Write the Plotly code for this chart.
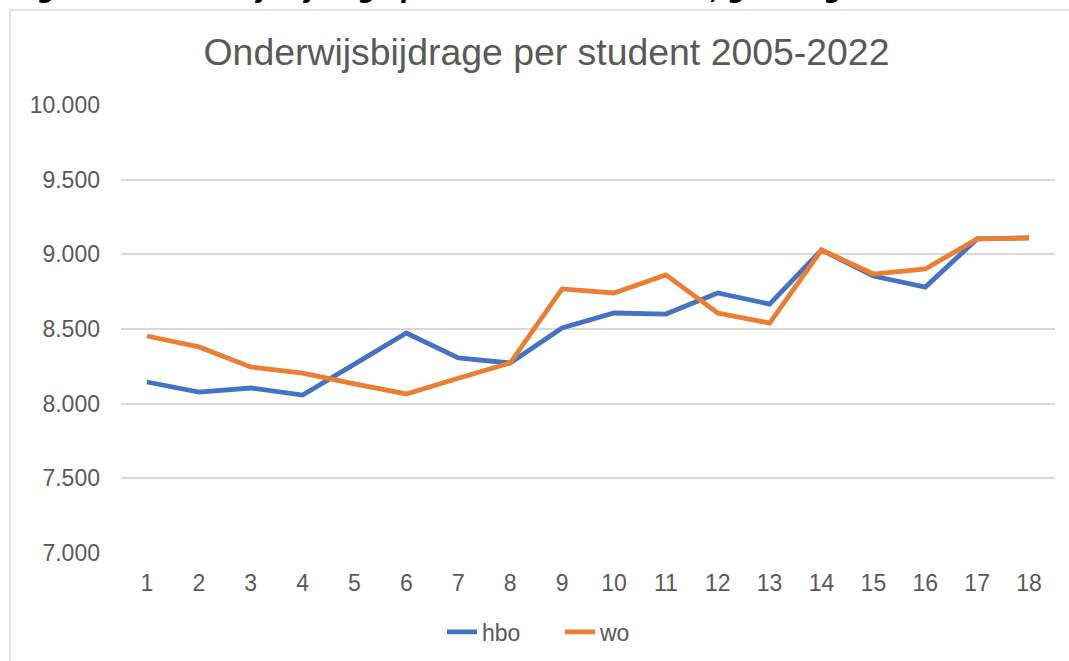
import plotly.graph_objects as go

categories = [str(i) for i in range(1, 19)]
hbo = [8145, 8078, 8105, 8058, 8265, 8473, 8306, 8272, 8507, 8607,
       8600, 8741, 8667, 9029, 8855, 8781, 9103, 9110]
wo = [8453, 8380, 8246, 8205, 8132, 8065, 8170, 8272, 8768, 8741,
      8862, 8607, 8540, 9029, 8868, 8902, 9103, 9110]
y_ticks = [7000, 7500, 8000, 8500, 9000, 9500, 10000]

title_text = "Onderwijsbijdrage per student 2005-2022"
caption_text = "Figuur 1: Onderwijsbijdrage per student 2005-2022, gecorrigeerd voor inflatie"

W, H = 1069, 661
L, R, T, B = 121, 14, 105, 108
pw = W - L - R
ph = H - T - B

def px_x(x):
    return (x - L) / pw

def px_y(y):
    return (H - B - y) / ph

TEXT = "#595959"
FONT = "Liberation Sans, Arial, sans-serif"

fig = go.Figure()
fig.add_trace(go.Scatter(x=categories, y=hbo, name="hbo", mode="lines",
                         line=dict(color="#4472C4", width=4.8)))
fig.add_trace(go.Scatter(x=categories, y=wo, name="wo", mode="lines",
                         line=dict(color="#ED7D31", width=4.8)))

fig.update_layout(
    width=W, height=H,
    margin=dict(l=L, r=R, t=T, b=B),
    paper_bgcolor="white", plot_bgcolor="white",
    separators=",.",
    font=dict(family=FONT, color=TEXT, size=23),
    title=dict(text=title_text, x=546.5 / W, xref="container", xanchor="center",
               y=1 - 52 / H, yref="container", yanchor="middle",
               font=dict(family=FONT, size=37.4, color=TEXT)),
    showlegend=True,
    legend=dict(orientation="h", x=442 / W, xref="container", xanchor="left",
                y=1 - 632 / H, yref="container", yanchor="middle",
                font=dict(family=FONT, size=23, color=TEXT),
                entrywidth=73, entrywidthmode="pixels",
                bgcolor="rgba(0,0,0,0)"),
    xaxis=dict(type="category", range=[-0.5, 17.5], showgrid=False,
               showline=False, zeroline=False,
               ticks="", tickfont=dict(family=FONT, size=23, color=TEXT),
               ticklabelstandoff=14, fixedrange=True),
    yaxis=dict(range=[7000, 10000], tickvals=y_ticks, tickformat=",d",
               showgrid=True, gridcolor="#D9D9D9", gridwidth=1.5,
               showline=False, zeroline=False, ticks="",
               tickfont=dict(family=FONT, size=23, color=TEXT),
               ticklabelstandoff=20, fixedrange=True),
)

# chart border (Excel chart area frame)
fig.add_shape(type="rect", xref="paper", yref="paper",
              x0=px_x(10), x1=px_x(1090), y0=px_y(690), y1=px_y(10),
              line=dict(color="#D9D9D9", width=1.5), fillcolor="rgba(0,0,0,0)",
              layer="below")

# cropped caption above the chart
fig.add_annotation(text="<b><i>" + caption_text + "</i></b>", xref="paper", yref="paper",
                   x=px_x(12), y=px_y(6), xanchor="left", yanchor="bottom",
                   showarrow=False,
                   font=dict(family="DejaVu Sans, sans-serif", size=24, color="black"))

fig.write_html("out.html", config={"displayModeBar": False},
               post_script="document.body.style.margin='0';document.body.style.overflow='hidden';")
